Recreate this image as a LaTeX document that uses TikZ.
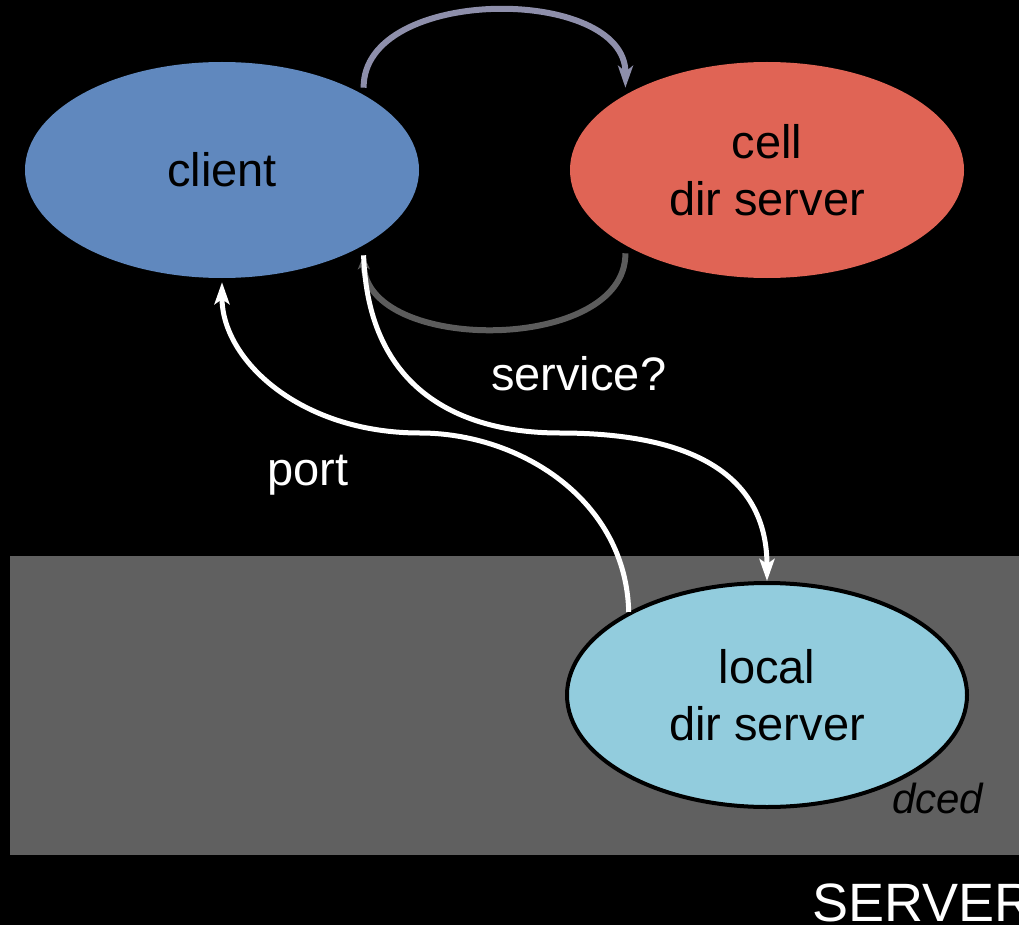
\documentclass[tikz,border=0pt]{standalone}
\usepackage{fontspec}
\setmainfont{Liberation Sans}
\usetikzlibrary{shapes.geometric,arrows.meta}
\definecolor{clientblue}{HTML}{6088BE}
\definecolor{cellred}{HTML}{E06455}
\definecolor{localcyan}{HTML}{92CCDD}
\definecolor{hostgray}{HTML}{606060}
\definecolor{lavender}{HTML}{8E8FAB}
\definecolor{darkarc}{HTML}{5C5C5C}
\tikzset{
  bubble/.style={ellipse, inner sep=0pt, minimum width=394pt, minimum height=216pt,
    align=center, font=\fontsize{47}{57}\selectfont},
  label/.style={text=white, inner sep=0pt, font=\fontsize{47}{57}\selectfont},
  flow/.style={line width=5pt, white, line cap=butt,
    -{Stealth[length=22pt,width=15pt,inset=5pt]}},
}
\begin{document}
\begin{tikzpicture}[x=1pt,y=-1pt]
  % background and host box
  \fill[black] (0,0) rectangle (1019,925);
  \useasboundingbox (0,0) rectangle (1019,925);
  \fill[hostgray] (10,556) rectangle (1030,855);

  % directory nodes
  \node[bubble, fill=clientblue] (client) at (222,170) {client};
  \node[bubble, fill=cellred] (cell) at (767,170) {cell\\dir server};
  \node[bubble, fill=localcyan, draw=black, line width=4pt,
        minimum width=400pt, minimum height=224pt] (local) at (767,695) {local\\dir server};

  % lookup to the cell directory and its reply
  \draw[lavender, line width=6pt, -{Stealth[length=22pt,width=15pt,inset=6pt]}]
    ([yshift=7pt]client.28) .. controls (363,-15) and (626,-15) .. ([yshift=7pt]cell.152);
  \draw[darkarc, line width=6pt, -{Stealth[length=14pt,width=12pt,inset=4pt]}]
    ([yshift=-8pt]cell.208) .. controls (626,354) and (365,354) .. ([yshift=-10pt]client.332);

  % query to the local daemon and the port returned
  \draw[flow] ([yshift=-10pt]client.332) .. controls (368,390) and (460,433) .. (560,433)
    .. controls (700,433) and (767,480) .. (local.north);
  \draw[flow] (local.149.5) .. controls (626,500) and (520,433) .. (420,433)
    .. controls (300,433) and (222,360) .. ([yshift=-4pt]client.south);

  % labels
  \node[label, anchor=base west] (svc) at (491,390) {service?};
  \node[label, anchor=base west] (port) at (267,485) {port};
  \node[inner sep=0pt, anchor=base west, font=\fontsize{42}{50}\selectfont\itshape]
    (dced) at (892,813) {dced};
  \node[label, anchor=base west, font=\fontsize{54}{64}\selectfont]
    (server) at (812,921) {SERVER};
\end{tikzpicture}
\end{document}
